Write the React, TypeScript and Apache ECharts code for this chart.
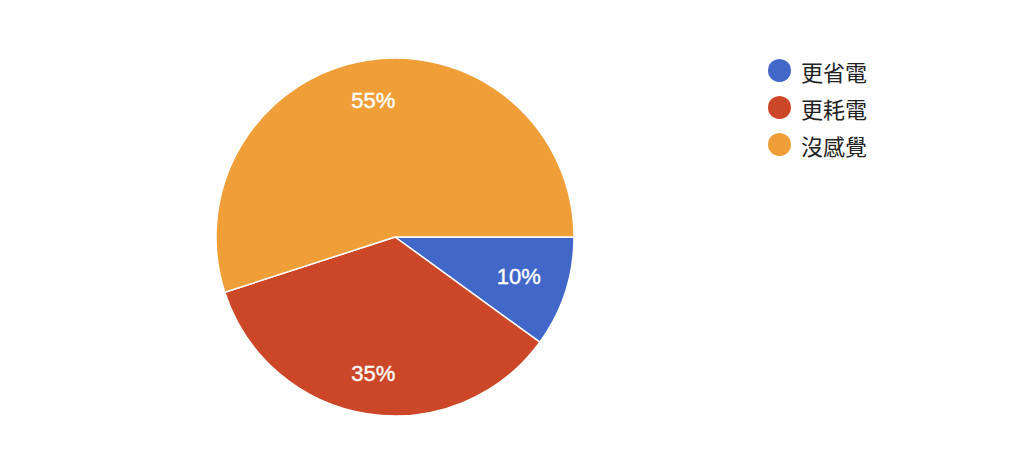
import React, { useEffect, useRef } from "react";
import * as echarts from "echarts";

const categories = ["更省電", "更耗電", "沒感覺"];
const values = [10, 35, 55];
const colors = ["#4167c8", "#cc4628", "#f09f38"];

export default function App() {
  const ref = useRef<HTMLDivElement>(null);
  useEffect(() => {
    document.body.style.margin = "0";
    const chart = echarts.init(ref.current!, null, { renderer: "svg" });
    const data = categories.map((name, i) => ({ name, value: values[i] }));
    chart.setOption({
      animation: false,
      backgroundColor: "#ffffff",
      color: colors,
      legend: {
        orient: "vertical",
        left: 761,
        top: 52,
        icon: "circle",
        itemWidth: 25,
        itemHeight: 25,
        itemGap: 10,
        data: categories,
        textStyle: {
          fontSize: 22,
          color: "#222222",
          fontFamily: "Noto Sans CJK TC",
          padding: [0, 0, 0, 4],
        },
      },
      series: [
        {
          type: "pie",
          center: [395, 237],
          radius: [0, 179],
          startAngle: 0,
          clockwise: true,
          data,
          label: { show: false },
          labelLine: { show: false },
          itemStyle: { borderColor: "#ffffff", borderWidth: 1.5 },
          silent: true,
        },
        {
          type: "pie",
          center: [395, 237],
          radius: [92, 179],
          startAngle: 0,
          clockwise: true,
          data,
          silent: true,
          itemStyle: { color: "rgba(0,0,0,0)", borderWidth: 0 },
          label: {
            show: true,
            position: "inside",
            formatter: "{d}%",
            color: "#ffffff",
            fontSize: 22,
            fontFamily: "Liberation Sans, Arial, sans-serif",
            textBorderColor: "#ffffff",
            textBorderWidth: 0.4,
          },
          labelLayout: (p: any) =>
            p.dataIndex === 0 ? { dx: -8, dy: -3 } : {},
          labelLine: { show: false },
        },
      ],
    });
    return () => chart.dispose();
  }, []);
  return (
    <div
      ref={ref}
      style={{ position: "absolute", left: 0, top: 0, width: 1024, height: 460 }}
    />
  );
}
